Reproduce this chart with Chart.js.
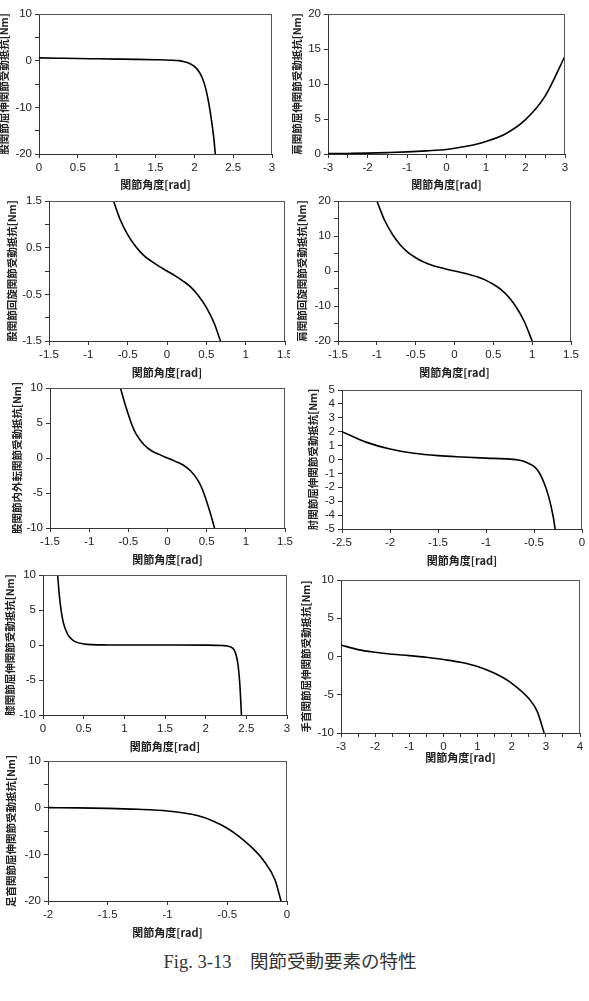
<!DOCTYPE html>
<html lang="ja">
<head>
<meta charset="utf-8">
<title>関節受動要素の特性</title>
<script src="https://cdn.jsdelivr.net/npm/chart.js@4.4.1/dist/chart.umd.min.js"></script>
<style>
html, body { margin: 0; padding: 0; background: #fff; }
body { width: 589px; height: 1001px; position: relative; overflow: hidden; }
.panel { position: absolute; }
.caption {
    position: absolute; left: 0; top: 950px; width: 580px; line-height: 24px;
    text-align: center; font-family: "Liberation Serif", "Noto Sans CJK JP", serif;
    font-size: 18.5px; color: #333;
}
</style>
</head>
<body>
<div class="caption">Fig. 3-13　関節受動要素の特性</div>
<script>
// values: joint angle [rad] -> passive torque [Nm]
const hipFlexX = [0, 0.25, 0.5, 0.75, 1.0, 1.25, 1.5, 1.7, 1.8, 1.85, 1.9, 1.95, 2.0, 2.05, 2.1, 2.15, 2.2, 2.25, 2.27];
const hipFlexY = [0.6, 0.53, 0.46, 0.4, 0.34, 0.28, 0.2, 0.1, 0.0, -0.15, -0.35, -0.7, -1.2, -2.1, -3.6, -6.2, -10.5, -16.5, -20];

const shoulderFlexX = [-3, -2.5, -2, -1.5, -1, -0.5, 0, 0.5, 1, 1.5, 2, 2.5, 3];
const shoulderFlexY = [0.05, 0.08, 0.12, 0.2, 0.3, 0.45, 0.65, 1.1, 1.8, 2.9, 4.9, 8.3, 14.0];

const hipRotX = [-0.68, -0.6, -0.5, -0.4, -0.3, -0.2, -0.1, 0, 0.1, 0.2, 0.3, 0.4, 0.5, 0.6, 0.68];
const hipRotY = [1.5, 1.12, 0.78, 0.53, 0.34, 0.21, 0.1, 0, -0.1, -0.21, -0.34, -0.53, -0.78, -1.12, -1.5];

const shoulderRotX = [-1, -0.9, -0.8, -0.7, -0.6, -0.5, -0.4, -0.3, -0.2, -0.1, 0, 0.1, 0.2, 0.3, 0.4, 0.5, 0.6, 0.7, 0.8, 0.9, 1];
const shoulderRotY = [20, 14.5, 10.5, 7.5, 5.3, 3.8, 2.6, 1.7, 1.05, 0.5, 0, -0.5, -1.05, -1.7, -2.6, -3.8, -5.3, -7.5, -10.5, -14.5, -20];

const hipAbdX = [-0.6, -0.55, -0.5, -0.45, -0.4, -0.3, -0.2, -0.1, 0, 0.1, 0.2, 0.3, 0.4, 0.45, 0.5, 0.55, 0.6];
const hipAbdY = [10, 8, 6.2, 4.6, 3.4, 1.9, 1.0, 0.48, 0, -0.48, -1.0, -1.9, -3.4, -4.6, -6.2, -8, -10];

const elbowX = [-2.5, -2.25, -2, -1.75, -1.5, -1.25, -1, -0.75, -0.65, -0.6, -0.55, -0.5, -0.45, -0.4, -0.35, -0.3, -0.28];
const elbowY = [2.0, 1.25, 0.75, 0.45, 0.28, 0.18, 0.1, 0.03, -0.05, -0.15, -0.3, -0.5, -0.9, -1.6, -2.6, -4.1, -5];

const kneeX = [0.18, 0.2, 0.22, 0.25, 0.3, 0.35, 0.4, 0.5, 0.6, 0.8, 1.0, 1.5, 2.0, 2.2, 2.3, 2.35, 2.38, 2.4, 2.42, 2.44];
const kneeY = [10, 7.2, 5.2, 3.2, 1.6, 0.85, 0.45, 0.15, 0.05, 0.01, 0, 0, -0.02, -0.08, -0.25, -0.7, -1.7, -3.0, -5.6, -10];

const wristX = [-3, -2.5, -2, -1.5, -1, -0.5, 0, 0.5, 1, 1.5, 2, 2.5, 2.75, 2.95];
const wristY = [1.5, 0.9, 0.55, 0.3, 0.12, -0.1, -0.4, -0.75, -1.3, -2.2, -3.5, -5.5, -7.2, -10];

const ankleX = [-2, -1.75, -1.5, -1.25, -1, -0.875, -0.75, -0.625, -0.5, -0.4, -0.3, -0.2, -0.1, -0.05];
const ankleY = [0, -0.05, -0.15, -0.35, -0.7, -1.1, -1.7, -2.8, -4.4, -6.2, -8.4, -11.2, -15.5, -20];

const X_TITLE = "関節角度[rad]";
const Y_TITLES = [
    "股関節屈伸関節受動抵抗[Nm]",
    "肩関節屈伸関節受動抵抗[Nm]",
    "股関節回旋関節受動抵抗[Nm]",
    "肩関節回旋関節受動抵抗[Nm]",
    "股関節内外転関節受動抵抗[Nm]",
    "肘関節屈伸関節受動抵抗[Nm]",
    "膝関節屈伸関節受動抵抗[Nm]",
    "手首関節屈伸関節受動抵抗[Nm]",
    "足首関節屈伸関節受動抵抗[Nm]"
];

// axis ranges: [min, max, tick step, label step]
const X_AXES = [[0, 3, 0.5, 0.5], [-3, 3, 0.5, 1], [-1.5, 1.5, 0.5, 0.5], [-1.5, 1.5, 0.5, 0.5], [-1.5, 1.5, 0.5, 0.5],
                [-2.5, 0, 0.5, 0.5], [0, 3, 0.5, 0.5], [-3, 4, 0.5, 1], [-2, 0, 0.5, 0.5]];
const Y_AXES = [[-20, 10, 5, 10], [0, 20, 5, 5], [-1.5, 1.5, 0.5, 1], [-20, 20, 5, 10], [-10, 10, 5, 5],
                [-5, 5, 1, 1], [-10, 10, 5, 5], [-10, 10, 5, 5], [-20, 10, 5, 10]];

const SERIES = [[hipFlexX, hipFlexY], [shoulderFlexX, shoulderFlexY], [hipRotX, hipRotY], [shoulderRotX, shoulderRotY],
                [hipAbdX, hipAbdY], [elbowX, elbowY], [kneeX, kneeY], [wristX, wristY], [ankleX, ankleY]];

// layout: plot area [left, top, right, bottom], y-title centre x, x-title gap, right padding
const LAYOUT = [
    { box: [39, 14, 272, 154], titleX: 4, gap: 30, padR: 14 },
    { box: [328, 14, 565, 154], titleX: 297, gap: 30, padR: 14 },
    { box: [49, 201, 285, 341], titleX: 12, gap: 31, padR: 5 },
    { box: [338, 201, 571, 341], titleX: 302, gap: 31, padR: 14 },
    { box: [50, 388, 285, 528], titleX: 17, gap: 31, padR: 10 },
    { box: [342, 390, 582, 529], titleX: 313, gap: 31, padR: 10 },
    { box: [43, 575, 287, 715], titleX: 10, gap: 31, padR: 10 },
    { box: [341, 580, 580, 733], titleX: 306, gap: 24, padR: 10 },
    { box: [48, 761, 287, 901], titleX: 11, gap: 31, padR: 10 }
];

var framePlugin = {
    id: "frame",
    afterDraw: function(chart) {
        var a = chart.chartArea, ctx = chart.ctx;
        ctx.save();
        ctx.strokeStyle = "#555";
        ctx.lineWidth = 1;
        ctx.beginPath();
        ctx.moveTo(a.left, a.top + 0.5);
        ctx.lineTo(a.right, a.top + 0.5);
        ctx.moveTo(a.right - 0.5, a.top);
        ctx.lineTo(a.right - 0.5, a.bottom);
        ctx.stroke();
        ctx.restore();
    }
};

function tickLabel(axis) {
    return function(v) {
        var k = (v - axis[0]) / axis[3];
        if (Math.abs(k - Math.round(k)) > 1e-6) return "";
        return String(+v.toFixed(2));
    };
}

function buildPanel(i) {
    var lay = LAYOUT[i];
    var L = lay.box[0], T = lay.box[1], R = lay.box[2], B = lay.box[3];
    var padTop = 10;
    var axisLeft = Math.round(lay.titleX - 9);
    var yWidth = L - axisLeft;
    var xHeight = lay.gap + 7;
    var w = R + lay.padR - axisLeft;
    var h = B + xHeight - (T - padTop);

    var div = document.createElement("div");
    div.className = "panel";
    div.style.left = axisLeft + "px";
    div.style.top = (T - padTop) + "px";
    var canvas = document.createElement("canvas");
    canvas.width = w;
    canvas.height = h;
    canvas.style.width = w + "px";
    canvas.style.height = h + "px";
    div.appendChild(canvas);
    document.body.appendChild(div);

    var xs = SERIES[i][0], ys = SERIES[i][1];
    var pts = xs.map(function(x, j) { return { x: x, y: ys[j] }; });
    var xa = X_AXES[i], ya = Y_AXES[i];
    var tickFont = { family: "'Liberation Sans', sans-serif", size: 11.5 };
    var titleFont = { family: "'Noto Sans CJK JP', sans-serif", size: 11, weight: "bold" };

    new Chart(canvas.getContext("2d"), {
        type: "line",
        data: {
            datasets: [{
                data: pts,
                borderColor: "#000",
                borderWidth: 1.6,
                pointRadius: 0,
                cubicInterpolationMode: "monotone",
                fill: false
            }]
        },
        options: {
            responsive: false,
            animation: false,
            layout: { padding: { top: padTop, right: lay.padR, left: 0, bottom: 0 } },
            plugins: { legend: { display: false }, tooltip: { enabled: false } },
            scales: {
                x: {
                    type: "linear",
                    min: xa[0], max: xa[1],
                    border: { color: "#333", width: 1 },
                    grid: { drawOnChartArea: false, drawTicks: true, tickLength: 4, color: "#333" },
                    ticks: { stepSize: xa[2], autoSkip: false, maxRotation: 0, padding: 3, color: "#222",
                             font: tickFont, callback: tickLabel(xa) },
                    title: { display: true, text: X_TITLE, color: "#222", font: titleFont, padding: { top: 0, bottom: 0 } },
                    afterFit: function(s) { s.height = xHeight; s.paddingLeft = 0; s.paddingRight = 0; }
                },
                y: {
                    min: ya[0], max: ya[1],
                    border: { color: "#333", width: 1 },
                    grid: { drawOnChartArea: false, drawTicks: true, tickLength: 4, color: "#333" },
                    ticks: { stepSize: ya[2], autoSkip: false, padding: 3, color: "#222",
                             font: tickFont, callback: tickLabel(ya) },
                    title: { display: true, text: Y_TITLES[i], color: "#222",
                             font: { family: "'Noto Sans CJK JP', sans-serif", size: 10.5, weight: "bold" },
                             padding: { top: 3, bottom: 0 } },
                    afterFit: function(s) { s.width = yWidth; s.paddingTop = 0; s.paddingBottom = 0; }
                }
            }
        },
        plugins: [framePlugin]
    });
}

for (var i = 0; i < SERIES.length; i++) buildPanel(i);
</script>
</body>
</html>
